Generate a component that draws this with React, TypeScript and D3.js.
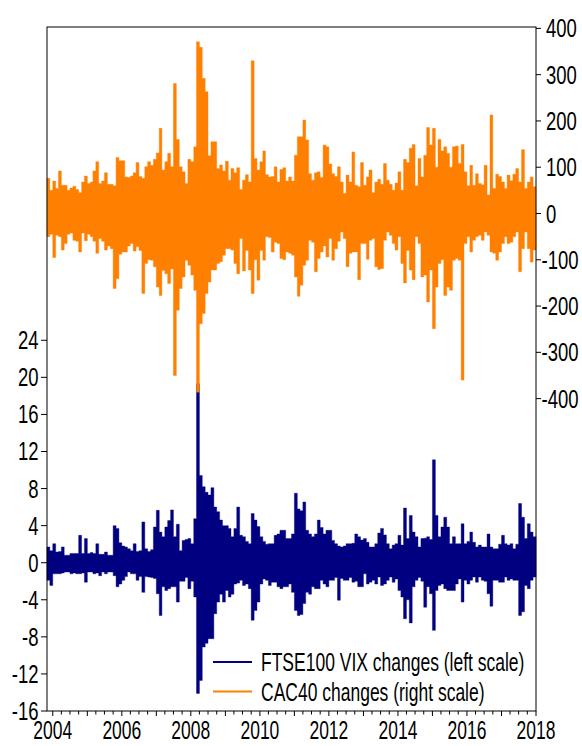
import React, { useEffect, useRef } from 'react';
import * as d3 from 'd3';

// monthly envelope (max / min of the daily changes), Nov 2003 .. Dec 2017
const firstMonth = new Date(2003, 10, 1);
const lastMonth = new Date(2018, 0, 1);

const vixHi = [
    1.7, 1.3, 2.05, 1.15, 1.2, 1.7, 0.8, 0.8, 1.0, 1.0,
    1.0, 2.95, 1.0, 2.6, 1.0, 1.1, 1.0, 2.05, 0.9, 0.9,
    1.15, 0.8, 0.8, 4.0, 3.7, 2.15, 1.8, 1.7, 1.5, 1.3,
    2.05, 1.2, 1.3, 4.4, 1.5, 1.2, 1.4, 3.85, 5.65, 3.3,
    2.8, 3.85, 4.55, 5.7, 2.8, 4.15, 1.3, 2.4, 2.5, 2.6,
    2.05, 4.75, 19.3, 9.4, 8.2, 7.6, 7.3, 8.1, 6.0, 5.5,
    4.6, 4.0, 4.0, 3.7, 2.8, 3.7, 6.0, 2.95, 2.8, 2.3,
    2.05, 5.3, 4.6, 3.9, 2.8, 2.3, 2.0, 2.05, 2.05, 2.95,
    3.1, 3.5, 3.5, 2.6, 2.6, 3.1, 7.5, 5.8, 5.6, 6.55,
    3.5, 3.1, 2.8, 3.1, 4.6, 3.8, 3.1, 3.5, 3.5, 2.4,
    2.05, 1.8, 1.7, 1.8, 2.05, 2.05, 2.1, 3.1, 2.8, 2.45,
    2.6, 2.2, 1.7, 1.7, 2.05, 3.2, 3.7, 3.0, 2.05, 1.5,
    1.9, 2.05, 2.95, 1.9, 5.9, 2.6, 5.1, 3.3, 2.8, 1.7,
    2.6, 2.65, 2.8, 2.5, 11.1, 5.1, 2.8, 3.85, 4.9, 3.85,
    2.05, 2.8, 2.05, 2.05, 4.2, 2.05, 2.3, 3.3, 2.2, 1.7,
    1.9, 1.7, 1.7, 3.1, 1.7, 1.5, 1.5, 2.0, 2.95, 2.05,
    1.9, 2.05, 1.5, 2.0, 6.4, 4.9, 2.6, 4.2, 3.3, 2.8,
];
const vixLo = [
    -1.9, -2.45, -1.2, -1.2, -1.2, -1.1, -1.0, -1.0, -1.2, -1.1,
    -1.2, -1.2, -1.1, -2.1, -1.0, -1.0, -1.2, -1.1, -1.4, -1.0,
    -1.2, -1.0, -1.0, -1.4, -2.6, -2.3, -1.9, -1.5, -1.0, -1.2,
    -1.2, -1.9, -1.5, -3.2, -1.5, -1.55, -1.6, -1.7, -3.35, -5.7,
    -2.6, -3.0, -2.8, -2.6, -2.6, -4.25, -2.0, -2.0, -1.6, -2.8,
    -2.0, -3.7, -14.1, -12.7, -9.1, -8.7, -8.2, -8.2, -5.5, -4.25,
    -3.4, -4.25, -3.0, -3.7, -3.4, -2.3, -2.2, -1.9, -2.45, -2.3,
    -2.8, -6.2, -5.15, -4.25, -2.3, -1.75, -1.9, -2.45, -2.1, -2.1,
    -2.6, -2.8, -2.6, -2.6, -2.3, -3.2, -5.15, -5.7, -5.6, -4.4,
    -3.2, -3.4, -2.6, -2.8, -2.8, -1.9, -2.3, -2.6, -1.9, -1.9,
    -1.6, -4.05, -1.7, -1.9, -1.9, -1.6, -2.1, -2.0, -2.6, -2.6,
    -1.2, -2.3, -2.1, -1.9, -2.3, -1.55, -2.45, -2.3, -1.9, -1.55,
    -2.1, -1.75, -3.0, -3.7, -6.05, -4.0, -6.5, -2.6, -1.9, -1.6,
    -2.0, -4.8, -2.6, -3.35, -7.3, -3.0, -2.45, -2.3, -2.8, -3.0,
    -3.0, -3.0, -2.3, -1.75, -4.25, -1.9, -2.3, -1.9, -1.55, -2.1,
    -1.55, -1.9, -2.0, -3.35, -4.7, -1.9, -1.9, -2.1, -2.1, -1.55,
    -1.9, -1.75, -1.9, -1.9, -5.7, -5.3, -2.45, -2.8, -1.9, -1.55,
];
const cacHi = [
    76, 50, 70, 54, 92, 61, 61, 50, 55, 59,
    52, 45, 68, 81, 65, 68, 92, 112, 65, 70,
    88, 63, 63, 60, 121, 114, 114, 79, 78, 81,
    88, 110, 80, 76, 101, 112, 104, 117, 131, 184,
    94, 112, 130, 101, 281, 160, 101, 90, 65, 117,
    112, 144, 371, 359, 292, 263, 125, 155, 155, 97,
    105, 92, 113, 72, 97, 88, 99, 52, 72, 84,
    68, 330, 119, 94, 112, 135, 84, 79, 80, 101,
    68, 95, 99, 70, 79, 70, 126, 166, 166, 202,
    159, 86, 72, 88, 90, 78, 148, 144, 107, 86,
    80, 101, 68, 43, 83, 68, 133, 61, 58, 110,
    61, 79, 94, 45, 68, 74, 63, 108, 72, 63,
    50, 66, 90, 50, 117, 110, 141, 149, 60, 119,
    79, 126, 186, 148, 184, 100, 160, 135, 144, 130,
    100, 144, 146, 108, 149, 90, 60, 104, 61, 86,
    65, 62, 104, 40, 213, 54, 85, 80, 68, 54,
    83, 71, 85, 97, 68, 138, 54, 68, 79, 58,
];
const cacLo = [
    -50, -45, -95, -47, -50, -79, -65, -45, -42, -58,
    -60, -83, -42, -59, -45, -50, -60, -86, -54, -60,
    -79, -70, -76, -162, -141, -88, -83, -83, -70, -65,
    -81, -72, -80, -173, -108, -100, -101, -115, -159, -177,
    -123, -130, -151, -120, -350, -209, -162, -137, -101, -112,
    -133, -166, -386, -238, -216, -173, -148, -122, -122, -108,
    -104, -90, -76, -76, -79, -108, -130, -54, -124, -80,
    -122, -173, -100, -144, -80, -101, -50, -52, -83, -62,
    -65, -97, -100, -83, -86, -90, -137, -179, -155, -112,
    -101, -58, -62, -126, -97, -83, -70, -94, -54, -101,
    -76, -60, -40, -54, -115, -86, -83, -83, -143, -65,
    -65, -99, -58, -54, -115, -121, -119, -58, -40, -47,
    -65, -79, -50, -108, -150, -80, -122, -143, -50, -65,
    -137, -133, -191, -122, -249, -159, -108, -100, -177, -159,
    -166, -101, -97, -101, -360, -65, -50, -83, -58, -50,
    -47, -58, -40, -47, -83, -86, -101, -83, -65, -50,
    -65, -62, -50, -40, -126, -76, -40, -76, -105, -79,
];

const leftTicks = [-16, -12, -8, -4, 0, 4, 8, 12, 16, 20, 24];
const rightTicks = [-400, -300, -200, -100, 0, 100, 200, 300, 400];
const yearLabels = [2004, 2006, 2008, 2010, 2012, 2014, 2016, 2018];
const seriesNames = ['FTSE100 VIX changes (left scale)', 'CAC40 changes (right scale)'];
const seriesColors = ['#000080', '#ff8000'];

const font = 'Arial, "Liberation Sans", sans-serif';

function App() {
    const ref = useRef<SVGSVGElement>(null);

    useEffect(() => {
        const svg = d3.select(ref.current);
        svg.selectAll('*').remove();

        const left = 47, right = 536, top = 27, bottom = 711;

        const x = d3.scaleTime().domain([firstMonth, lastMonth]).range([left, right]);
        const yL = d3.scaleLinear().domain([-16, 57.8]).range([bottom, top]);
        const yR = d3.scaleLinear().domain([-1075, 403]).range([bottom, top]);

        const months = d3.timeMonth.range(firstMonth, lastMonth);

        // each month is filled from its lowest to its highest daily change
        const band = (hi: number[], lo: number[], y: d3.ScaleLinear<number, number>) => {
            const pts = months.map((m, i) => ({ d: m, hi: hi[i], lo: lo[i] }));
            pts.push({ d: lastMonth, hi: hi[hi.length - 1], lo: lo[lo.length - 1] });
            return d3.area<{ d: Date; hi: number; lo: number }>()
                .curve(d3.curveStepAfter)
                .x(p => x(p.d))
                .y0(p => y(p.lo))
                .y1(p => y(p.hi))(pts);
        };

        svg.append('path')
            .attr('d', band(vixHi, vixLo, yL))
            .attr('fill', seriesColors[0])
            .attr('stroke', seriesColors[0])
            .attr('stroke-width', 0.4);

        svg.append('path')
            .attr('d', band(cacHi, cacLo, yR))
            .attr('fill', seriesColors[1])
            .attr('stroke', seriesColors[1])
            .attr('stroke-width', 0.4);

        // frame
        svg.append('rect')
            .attr('x', left).attr('y', top)
            .attr('width', right - left).attr('height', bottom - top)
            .attr('fill', 'none').attr('stroke', '#000').attr('stroke-width', 1);

        // the original uses a narrow face, so squeeze the glyphs horizontally
        const label = (txt: string, tx: number, ty: number, anchor: string, sx = 0.74) =>
            svg.append('text')
                .attr('transform', `translate(${tx},${ty}) scale(${sx},1)`)
                .attr('text-anchor', anchor)
                .style('font-family', font)
                .style('font-size', '25px')
                .style('fill', '#000')
                .text(txt);

        // left axis
        leftTicks.forEach(v => {
            svg.append('line').attr('x1', left - 6).attr('x2', left)
                .attr('y1', yL(v)).attr('y2', yL(v)).attr('stroke', '#000');
            label(String(v), 38.5, yL(v) + 9, 'end');
        });

        // right axis
        rightTicks.forEach(v => {
            svg.append('line').attr('x1', right).attr('x2', right + 5)
                .attr('y1', yR(v)).attr('y2', yR(v)).attr('stroke', '#000');
            label(String(v), v < 0 ? 541.5 : 546, yR(v) + 9, 'start');
        });

        // bottom axis: quarterly ticks, labels every other year
        d3.timeMonth.every(3)!.range(firstMonth, d3.timeDay.offset(lastMonth, 1)).forEach(d => {
            const len = d.getMonth() === 0 ? 5 : 3.5;
            svg.append('line').attr('x1', x(d)).attr('x2', x(d))
                .attr('y1', bottom).attr('y2', bottom + len).attr('stroke', '#000');
        });
        yearLabels.forEach(yr => {
            label(String(yr), x(new Date(yr, 0, 1)), 738.5, 'middle', 0.7);
        });

        // legend
        seriesNames.forEach((name, i) => {
            const ly = 662 + i * 29.5;
            svg.append('line').attr('x1', 213).attr('x2', 252)
                .attr('y1', ly).attr('y2', ly)
                .attr('stroke', seriesColors[i]).attr('stroke-width', 2);
            label(name, 261, ly + 9, 'start', 0.7);
        });
    }, []);

    return (
        <svg ref={ref} width={582} height={746}
            style={{ position: 'absolute', left: 0, top: 0, background: '#fff' }}></svg>
    );
}

export default App;
